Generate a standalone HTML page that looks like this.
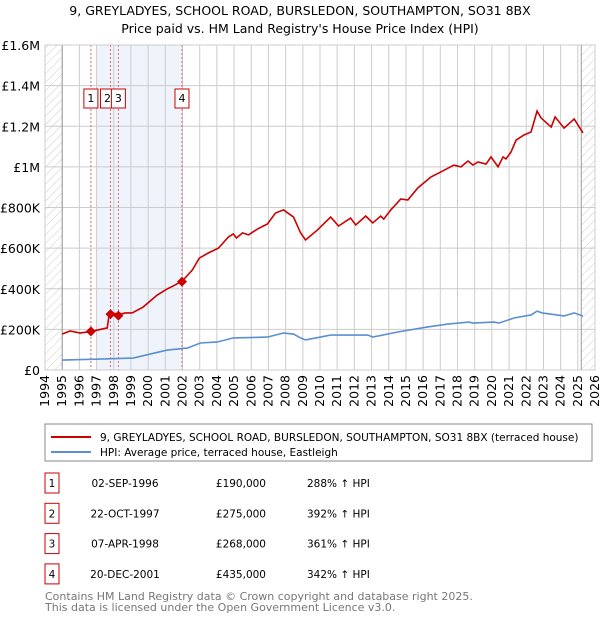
<!DOCTYPE html>
<html><head><meta charset="utf-8"><style>
body{margin:0;background:#fff;font-family:"DejaVu Sans","Liberation Sans",sans-serif;}
svg text{font-family:"DejaVu Sans","Liberation Sans",sans-serif;}
</style></head><body>
<svg id="c" width="600" height="620" xmlns="http://www.w3.org/2000/svg">
<defs><pattern id="hatch" width="6" height="6" patternUnits="userSpaceOnUse" patternTransform="rotate(45)"><line x1="0" y1="0" x2="0" y2="6" stroke="#ccc" stroke-width="1"/></pattern></defs>
<text x="300" y="15" text-anchor="middle" font-size="12.5">9, GREYLADYES, SCHOOL ROAD, BURSLEDON, SOUTHAMPTON, SO31 8BX</text>
<text x="300" y="33" text-anchor="middle" font-size="12.5">Price paid vs. HM Land Registry's House Price Index (HPI)</text>
<g id="plot"></g>
<rect x="45" y="424" width="547" height="37" fill="none" stroke="#888"/>
<line x1="51" y1="437" x2="91" y2="437" stroke="#cc0000" stroke-width="2"/>
<text x="100" y="441" font-size="10.5">9, GREYLADYES, SCHOOL ROAD, BURSLEDON, SOUTHAMPTON, SO31 8BX (terraced house)</text>
<line x1="51" y1="452" x2="91" y2="452" stroke="#5b8fd0" stroke-width="2"/>
<text x="100" y="456" font-size="10.5">HPI: Average price, terraced house, Eastleigh</text>
<g id="table" font-size="10.5"></g>
<text x="45" y="600" font-size="11" fill="#777">Contains HM Land Registry data © Crown copyright and database right 2025.</text>
<text x="45" y="611" font-size="11" fill="#777">This data is licensed under the Open Government Licence v3.0.</text>
</svg>
<script>
const redYears=[1995.0,1995.46,1996.04,1996.68,1997.62,1997.73,1997.96,1998.26,1998.66,1999.07,1999.71,2000.53,2001.11,2001.46,2001.99,2002.57,2002.98,2003.5,2004.09,2004.67,2004.96,2005.14,2005.49,2005.84,2006.36,2006.94,2007.41,2007.88,2008.46,2008.87,2009.16,2009.86,2010.62,2011.08,2011.78,2012.08,2012.66,2013.07,2013.53,2013.71,2014.12,2014.7,2015.11,2015.69,2016.45,2017.03,2017.79,2018.2,2018.61,2018.9,2019.19,2019.66,2019.95,2020.36,2020.65,2020.82,2021.11,2021.41,2021.87,2022.28,2022.63,2022.86,2023.45,2023.68,2024.2,2024.79,2025.3];
const redValues=[177,192,182,190,207,271,281,271,281,281,310,369,399,414,438,492,551,576,600,655,670,650,675,665,694,719,773,788,753,675,640,690,753,709,748,714,758,724,758,743,788,842,837,896,950,975,1009,1000,1029,1009,1024,1014,1049,1000,1049,1039,1073,1132,1157,1172,1275,1241,1196,1246,1191,1236,1167];
const hpiYears=[1995.0,1997.21,1999.13,2001.11,2002.28,2003.04,2004.03,2004.96,2006.94,2007.88,2008.46,2008.87,2009.16,2010.62,2012.78,2013.07,2014.52,2016.27,2017.44,2018.66,2018.9,2020.12,2020.41,2021.29,2022.28,2022.63,2022.92,2024.2,2024.79,2025.3];
const hpiValues=[49,54,59,98,108,133,138,158,162,182,177,158,148,172,172,162,187,212,226,236,231,236,231,256,271,290,281,266,281,266];
const yTicks=[0,200,400,600,800,1000,1200,1400,1600];
const yTickLabels=["£0","£200K","£400K","£600K","£800K","£1M","£1.2M","£1.4M","£1.6M"];
const xTicks=[1994,1995,1996,1997,1998,1999,2000,2001,2002,2003,2004,2005,2006,2007,2008,2009,2010,2011,2012,2013,2014,2015,2016,2017,2018,2019,2020,2021,2022,2023,2024,2025,2026];
const saleLabels=["1","2","3","4"];
const saleYears=[1996.67,1997.81,1998.27,2001.97];
const saleValues=[190,275,268,435];
const saleDates=["02-SEP-1996","22-OCT-1997","07-APR-1998","20-DEC-2001"];
const salePrices=["£190,000","£275,000","£268,000","£435,000"];
const saleHpi=["288% ↑ HPI","392% ↑ HPI","361% ↑ HPI","342% ↑ HPI"];

const NS="http://www.w3.org/2000/svg";
const X0=45,X1=595,Y0=370,Y1=45;
const xs=y=>X0+(y-1994)/(2026-1994)*(X1-X0);
const ys=v=>Y0-v/1600*(Y0-Y1);
const plot=document.getElementById('plot');
function mk(tag,attrs,parent){const e=document.createElementNS(NS,tag);for(const k in attrs)e.setAttribute(k,attrs[k]);(parent||plot).appendChild(e);return e;}
let e;
e=mk('rect',{x:xs(1997),y:Y1,width:xs(2002)-xs(1997),height:Y0-Y1,fill:'#eef3fc'});


e=mk('rect',{x:X0,y:Y1,width:xs(1995)-X0,height:Y0-Y1,fill:'url(#hatch)'});


e=mk('rect',{x:xs(2025.2),y:Y1,width:X1-xs(2025.2),height:Y0-Y1,fill:'url(#hatch)'});


yTicks.forEach((t,i)=>{
 e=mk('line',{x1:X0,x2:X1,y1:ys(t),y2:ys(t),stroke:'#ccc'});
 
 
 e=mk('text',{x:40,y:ys(t)+5,'text-anchor':'end','font-size':'12.5'});
 e.textContent=yTickLabels[i];
 
 
});
xTicks.forEach(t=>{
 e=mk('line',{x1:xs(t),x2:xs(t),y1:Y1,y2:Y0,stroke:'#ccc'});
 
 
 e=mk('text',{x:0,y:0,'text-anchor':'end','font-size':'12.5',transform:`translate(${xs(t)+4},${Y0+5}) rotate(-90)`});
 e.textContent=t;
 
 
});
e=mk('line',{x1:xs(1995),x2:xs(1995),y1:Y1,y2:Y0,stroke:'#999'});


e=mk('line',{x1:xs(2025.2),x2:xs(2025.2),y1:Y1,y2:Y0,stroke:'#999'});


saleYears.forEach((y,i)=>{
 e=mk('line',{x1:xs(y),x2:xs(y),y1:Y1,y2:Y0,stroke:'#e06666','stroke-dasharray':'2,2'});
 
 
});
e=mk('path',{d:hpiYears.map((y,i)=>(i?'L':'M')+xs(y)+','+ys(hpiValues[i])).join(''),fill:'none',stroke:'#5b8fd0','stroke-width':1.6});


e=mk('path',{d:redYears.map((y,i)=>(i?'L':'M')+xs(y)+','+ys(redValues[i])).join(''),fill:'none',stroke:'#cc0000','stroke-width':1.6});


saleYears.forEach((y,i)=>{
 const cx=xs(y),cy=ys(saleValues[i]);
 e=mk('path',{d:`M${cx-5},${cy}L${cx},${cy-5}L${cx+5},${cy}L${cx},${cy+5}Z`,fill:'#cc0000'});
 
 
 const bx=i===1?cx-10:cx-7;
 e=mk('rect',{x:bx,y:89,width:14,height:19,fill:'#fff',stroke:'#cc0000'});
 
 
 e=mk('text',{x:bx+7,y:102,'text-anchor':'middle','font-size':'11'});
 e.textContent=saleLabels[i];
 
 
});
e=mk('rect',{x:X0,y:Y1,width:X1-X0,height:Y0-Y1,fill:'none',stroke:'#ccc'});
const tb=document.getElementById('table');
saleLabels.forEach((l,i)=>{
 const cy=483+i*30.3;
 e=mk('rect',{x:45,y:cy-10,width:14,height:20,fill:'#fff',stroke:'#cc0000'},tb);
 
 
 e=mk('text',{x:52,y:cy+4,'text-anchor':'middle'},tb);e.textContent=l;
 
 
 e=mk('text',{x:125,y:cy+4,'text-anchor':'middle'},tb);e.textContent=saleDates[i];
 
 
 e=mk('text',{x:266,y:cy+4,'text-anchor':'end'},tb);e.textContent=salePrices[i];
 
 
 e=mk('text',{x:307,y:cy+4},tb);e.textContent=saleHpi[i];
 
 
});
</script>
</body></html>
